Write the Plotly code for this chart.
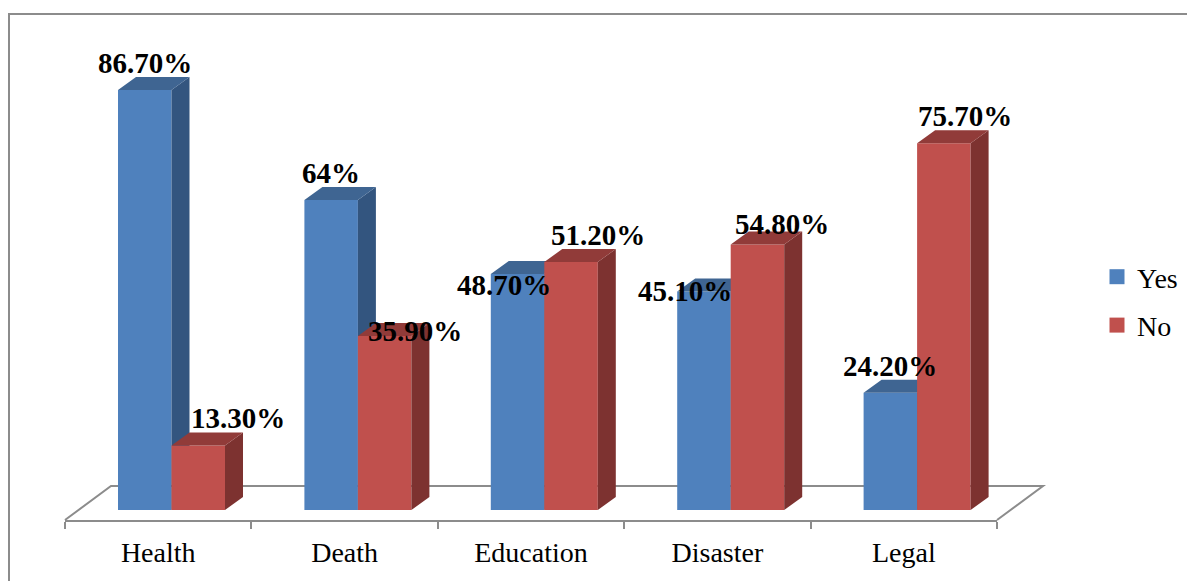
import plotly.graph_objects as go

# Survey results per domain
categories = ["Health", "Death", "Education", "Disaster", "Legal"]
yes_values = [86.7, 64.0, 48.7, 45.1, 24.2]
no_values = [13.3, 35.9, 51.2, 54.8, 75.7]
yes_labels = ["86.70%", "64%", "48.70%", "45.10%", "24.20%"]
no_labels = ["13.30%", "35.90%", "51.20%", "54.80%", "75.70%"]

# Label nudges in pixels (dx, dy) from the top-centre of each bar's front face
yes_nudges = [(0, 27), (0, 27), (-14, -11), (-19, 1), (0, 27)]
no_nudges = [(40, 28), (30, 5), (27, 27), (25, 21), (21, 27)]

BLUE = "#4F81BD"
BLUE_SIDE = "#33557F"
BLUE_TOP = "#3F6592"
RED = "#C0504D"
RED_SIDE = "#7D3230"
RED_TOP = "#913B39"
GREY = "#8C8C8C"
SERIF = "Liberation Serif"

# Plot frame in pixels; one category spans 186.4 px, one percentage point 4.844 px
WIDTH, HEIGHT = 1187, 581
LEFT, RIGHT_EDGE, TOP, AXIS_Y, BASE_Y = 65, 997, 14, 520, 510
PX_X = (RIGHT_EDGE - LEFT) / len(categories)
PX_Y = 4.844
Y_RANGE = [-(AXIS_Y - BASE_Y) / PX_Y, (BASE_Y - TOP) / PX_Y]
X_RANGE = [0, len(categories)]
X_DOMAIN = [LEFT / WIDTH, RIGHT_EDGE / WIDTH]
Y_DOMAIN = [1 - AXIS_Y / HEIGHT, 1 - TOP / HEIGHT]

BAR_W = 53.5 / PX_X
BAR_START = 53 / PX_X
DEPTH_X, DEPTH_Y = 18 / PX_X, 13 / PX_Y
FLOOR_DX_PX, FLOOR_DY_PX = 46, 34


def faces(left_edges, values):
    """Return (side, top) polygon outlines of the extruded bars."""
    sx, sy, tx, ty = [], [], [], []
    for xl, v in zip(left_edges, values):
        xr = xl + BAR_W
        sx += [xr, xr + DEPTH_X, xr + DEPTH_X, xr, xr, None]
        sy += [0, DEPTH_Y, v + DEPTH_Y, v, 0, None]
        tx += [xl, xl + DEPTH_X, xr + DEPTH_X, xr, xl, None]
        ty += [v, v + DEPTH_Y, v + DEPTH_Y, v, v, None]
    return sx, sy, tx, ty


def polygon(x, y, color, xa, ya):
    return go.Scatter(x=x, y=y, mode="lines", fill="toself", fillcolor=color,
                      line=dict(width=0, color=color), xaxis=xa, yaxis=ya,
                      showlegend=False, hoverinfo="skip")


def page_x(px):
    return px / WIDTH


def page_y(px):
    return 1 - px / HEIGHT


fig = go.Figure()

# Legend swatches
fig.add_trace(go.Scatter(x=[None], y=[None], name="Yes", mode="markers", legendgroup="yes",
                         marker=dict(symbol="square", size=15, color=BLUE), xaxis="x", yaxis="y"))
fig.add_trace(go.Scatter(x=[None], y=[None], name="No", mode="markers", legendgroup="no",
                         marker=dict(symbol="square", size=15, color=RED), xaxis="x", yaxis="y"))

series = [
    (yes_values, 0.0, BLUE, BLUE_SIDE, BLUE_TOP, "x2", "y2", yes_labels, yes_nudges),
    (no_values, BAR_W, RED, RED_SIDE, RED_TOP, "x3", "y3", no_labels, no_nudges),
]
annotations = []
for values, shift, front, side, top, xa, ya, labels, nudges in series:
    lefts = [i + BAR_START + shift for i in range(len(categories))]
    centers = [xl + BAR_W / 2 for xl in lefts]
    fig.add_trace(go.Bar(x=centers, y=values, width=BAR_W, marker=dict(color=front, line=dict(width=0)),
                         xaxis=xa, yaxis=ya, showlegend=False, hovertemplate="%{y}%<extra></extra>"))
    sx, sy, tx, ty = faces(lefts, values)
    fig.add_trace(polygon(sx, sy, side, xa, ya))
    fig.add_trace(polygon(tx, ty, top, xa, ya))
    for cx, v, text, (dx, dy) in zip(centers, values, labels, nudges):
        annotations.append(dict(x=cx, y=v, xref="x", yref="y", text=f"<b>{text}</b>", showarrow=False,
                                xshift=dx, yshift=dy, xanchor="center", yanchor="middle",
                                font=dict(family=SERIF, size=29, color="#000000")))

overlay = dict(overlaying="x", range=X_RANGE, domain=X_DOMAIN, visible=False, fixedrange=True)
overlay_y = dict(overlaying="y", range=Y_RANGE, domain=Y_DOMAIN, visible=False, fixedrange=True)

# Chart-area border and the open edges of the 3D floor, both beneath the bars
border = dict(type="rect", xref="paper", yref="paper", layer="below",
              x0=page_x(9), x1=page_x(1300), y0=-0.2, y1=page_y(TOP),
              line=dict(color=GREY, width=2), fillcolor="white")
floor_back = AXIS_Y - FLOOR_DY_PX
floor = dict(type="path", xref="paper", yref="paper", layer="below",
             path=(f"M {page_x(LEFT)} {page_y(AXIS_Y)} "
                   f"L {page_x(LEFT + FLOOR_DX_PX)} {page_y(floor_back)} "
                   f"L {page_x(RIGHT_EDGE + FLOOR_DX_PX)} {page_y(floor_back)} "
                   f"L {page_x(RIGHT_EDGE)} {page_y(AXIS_Y)}"),
             line=dict(color=GREY, width=2))

fig.update_layout(
    width=WIDTH, height=HEIGHT, autosize=False,
    margin=dict(l=0, r=0, t=0, b=0, pad=0),
    paper_bgcolor="white", plot_bgcolor="rgba(0,0,0,0)",
    barmode="overlay",
    font=dict(family=SERIF, color="#000000"),
    xaxis=dict(range=X_RANGE, domain=X_DOMAIN, showgrid=False, zeroline=False, showline=True,
               linecolor=GREY, linewidth=2,
               tickmode="array", tickvals=[i + 0.5 for i in range(len(categories))], ticktext=categories,
               ticks="", ticklabelstandoff=6, tickfont=dict(family=SERIF, size=28, color="#000000"),
               minor=dict(tickmode="array", tickvals=list(range(len(categories) + 1)), ticks="outside",
                          ticklen=7, tickwidth=2, tickcolor=GREY),
               fixedrange=True),
    yaxis=dict(range=Y_RANGE, domain=Y_DOMAIN, visible=False, fixedrange=True),
    xaxis2=dict(anchor="y2", **overlay),
    yaxis2=dict(anchor="x2", **overlay_y),
    xaxis3=dict(anchor="y3", **overlay),
    yaxis3=dict(anchor="x3", **overlay_y),
    legend=dict(x=page_x(1097), y=page_y(252), xanchor="left", yanchor="top",
                font=dict(family=SERIF, size=28, color="#000000"), tracegroupgap=9,
                bgcolor="rgba(0,0,0,0)", itemsizing="trace", itemwidth=30),
    annotations=annotations,
    shapes=[border, floor],
    showlegend=True,
)

fig.write_html("out.html")
